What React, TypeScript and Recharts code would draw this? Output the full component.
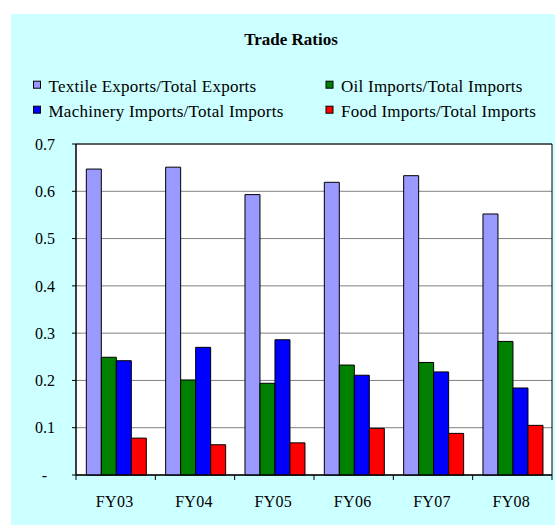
import React from "react";
import {
  BarChart,
  Bar,
  XAxis,
  YAxis,
  CartesianGrid,
  Legend,
  ReferenceArea,
} from "recharts";

const categories = ["FY03", "FY04", "FY05", "FY06", "FY07", "FY08"];
const textile = [0.647, 0.651, 0.593, 0.619, 0.633, 0.552];
const oil = [0.249, 0.201, 0.194, 0.2325, 0.238, 0.2825];
const machinery = [0.2417, 0.27, 0.286, 0.211, 0.218, 0.184];
const food = [0.078, 0.064, 0.068, 0.0987, 0.088, 0.105];
const yTicks = [0, 0.1, 0.2, 0.3, 0.4, 0.5, 0.6, 0.7];

const series = [
  { key: "textile", name: "Textile Exports/Total Exports", color: "#9999FF", values: textile },
  { key: "oil", name: "Oil Imports/Total Imports", color: "#008000", values: oil },
  { key: "machinery", name: "Machinery Imports/Total Imports", color: "#0000FF", values: machinery },
  { key: "food", name: "Food Imports/Total Imports", color: "#FF0000", values: food },
];

const data = categories.map((c, i) => {
  const row: any = { year: c };
  series.forEach((s) => (row[s.key] = s.values[i]));
  return row;
});

const FONT = "'Liberation Serif', 'Times New Roman', serif";

const YTick = (props: any) => {
  const { x, y, payload } = props;
  const v = payload.value;
  const label = v === 0 ? "-" : v.toFixed(1);
  return (
    <text
      x={x + (v === 0 ? -8 : 0)}
      y={y}
      dy="0.355em"
      textAnchor="end"
      fontFamily={FONT}
      fontSize={16}
      fill="#000"
    >
      {label}
    </text>
  );
};

const XTick = (props: any) => {
  const { x, y, payload, index, visibleTicksCount } = props;
  const half = payload && payload.offset ? payload.offset : 476 / categories.length / 2;
  const last = index === (visibleTicksCount ?? categories.length) - 1;
  return (
    <g>
      <line x1={x - half} x2={x - half} y1={y} y2={y + 5} stroke="#000" strokeWidth={1} />
      {last && <line x1={x + half} x2={x + half} y1={y} y2={y + 5} stroke="#000" strokeWidth={1} />}
      <text
        x={x - 1}
        y={y + 31.5}
        textAnchor="middle"
        fontFamily={FONT}
        fontSize={16}
        letterSpacing={0.3}
        fill="#000"
      >
        {payload.value}
      </text>
    </g>
  );
};

const LegendContent = () => {
  const cols = [33.5, 326];
  const rows = [91.7, 116.7];
  const order = [series[0], series[1], series[2], series[3]];
  return (
    <svg width={555} height={140} style={{ display: "block" }}>
      <text
        x={291}
        y={45}
        textAnchor="middle"
        fontFamily={FONT}
        fontSize={17}
        fontWeight="bold"
        fill="#000"
      >
        Trade Ratios
      </text>
      {order.map((s, i) => {
        const cx = cols[i % 2];
        const by = rows[Math.floor(i / 2)];
        return (
          <g key={s.key}>
            <rect x={cx} y={by - 10.5} width={7} height={7} fill={s.color} stroke="#000" strokeWidth={1} />
            <text
              x={cx + 15}
              y={by}
              fontFamily={FONT}
              fontSize={17}
              letterSpacing={0.25}
              fill="#000"
            >
              {s.name}
            </text>
          </g>
        );
      })}
    </svg>
  );
};

export default function App() {
  return (
    <div style={{ position: "relative", width: 555, height: 526, background: "#fff", overflow: "hidden" }}>
      <style>{`body{margin:0}`}</style>
      <div
        style={{
          position: "absolute",
          left: 11,
          top: 14,
          width: 544,
          height: 511,
          background: "#CCFFFF",
        }}
      />
      <div style={{ position: "absolute", left: 0, top: 0 }}>
        <BarChart
          width={555}
          height={526}
          data={data}
          margin={{ top: 144, right: 3, bottom: 21, left: 0 }}
          barCategoryGap="13%"
          barGap={0}
        >
          <CartesianGrid vertical={false} stroke="#808080" strokeWidth={1} fill="#FFFFFF" />
          <XAxis
            dataKey="year"
            height={30}
            axisLine={{ stroke: "#000", strokeWidth: 1 }}
            tickLine={false}
            tickSize={0}
            tickMargin={0}
            tick={<XTick />}
            interval={0}
          />
          <YAxis
            width={76}
            domain={[0, 0.7]}
            ticks={yTicks}
            interval={0}
            axisLine={{ stroke: "#000", strokeWidth: 1 }}
            tickLine={{ stroke: "#000", strokeWidth: 1 }}
            tickSize={4}
            tickMargin={17}
            tick={<YTick />}
          />
          <ReferenceArea y1={0} y2={0.7} fill="none" stroke="#000" strokeWidth={1} />
          <Legend
            layout="vertical"
            verticalAlign="middle"
            align="center"
            wrapperStyle={{ position: "absolute", top: 0, left: 0, width: 555, height: 140 }}
            content={<LegendContent />}
          />
          {series.map((s) => (
            <Bar
              key={s.key}
              dataKey={s.key}
              name={s.name}
              fill={s.color}
              stroke="#000"
              strokeWidth={1}
              isAnimationActive={false}
            />
          ))}
        </BarChart>
      </div>
    </div>
  );
}
